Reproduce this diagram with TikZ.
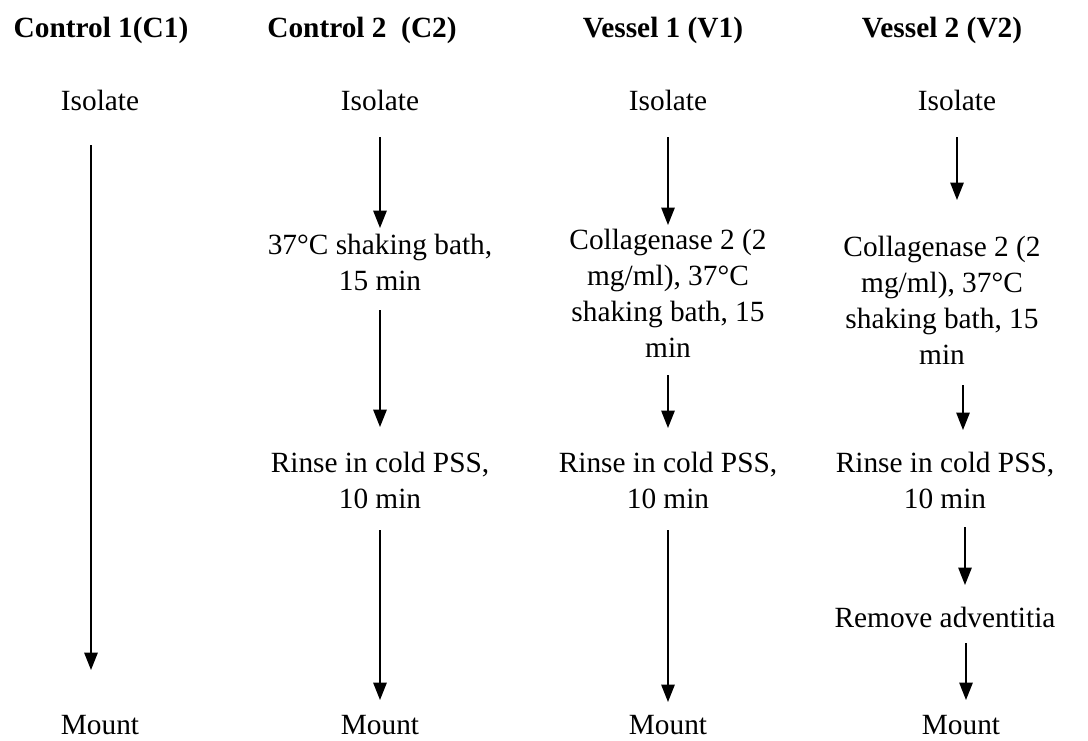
\documentclass[tikz,border=0pt]{standalone}
\usepackage{fontspec}
\setmainfont{Liberation Serif}
\usetikzlibrary{arrows.meta}
\newdimen\pxu
\pxu=0.75pt
\begin{document}
\begin{tikzpicture}[x=0.75pt,y=-0.75pt,
  every node/.style={inner sep=0pt, align=center, font=\fontsize{22}{27}\selectfont},
  head/.style={font=\fontsize{22}{27}\selectfont\bfseries},
  flow/.style={line width=1.2pt, -{Triangle[length=13pt,width=10pt]}}]
\useasboundingbox (0,0) rectangle (1088,740);

% column headings
\node[head] (h1) at (101,30) {Control 1(C1)};
\node[head] (h2) at (362,30) {Control 2\ \ (C2)};
\node[head] (h3) at (663,30) {Vessel 1 (V1)};
\node[head] (h4) at (942,30) {Vessel 2 (V2)};

% Control 1
\node (c1iso) at (100,100) {Isolate};
\node (c1mount) at (100,725) {Mount};
\draw[flow, shorten <=45\pxu, shorten >=55\pxu] ([xshift=-9\pxu]c1iso.center) -- ([xshift=-9\pxu]c1mount.center);

% Control 2
\node (c2iso) at (380,100) {Isolate};
\node (c2bath) at (380,262) {37°C shaking bath,\\15 min};
\node (c2rinse) at (380,480) {Rinse in cold PSS,\\10 min};
\node (c2mount) at (380,725) {Mount};
\draw[flow, shorten <=37\pxu, shorten >=34\pxu] (c2iso.center) -- (c2bath.center);
\draw[flow, shorten <=48\pxu, shorten >=53\pxu] (c2bath.center) -- (c2rinse.center);
\draw[flow, shorten <=50\pxu, shorten >=25\pxu] (c2rinse.center) -- (c2mount.center);

% Vessel 1
\node (v1iso) at (668,100) {Isolate};
\node (v1coll) at (668,293) {Collagenase 2 (2\\mg/ml), 37°C\\shaking bath, 15\\min};
\node (v1rinse) at (668,480) {Rinse in cold PSS,\\10 min};
\node (v1mount) at (668,725) {Mount};
\draw[flow, shorten <=37\pxu, shorten >=68\pxu] (v1iso.center) -- (v1coll.center);
\draw[flow, shorten <=82\pxu, shorten >=52\pxu] (v1coll.center) -- (v1rinse.center);
\draw[flow, shorten <=50\pxu, shorten >=23\pxu] (v1rinse.center) -- (v1mount.center);

% Vessel 2
\node (v2iso) at (957,100) {Isolate};
\node (v2coll) at (942,300) {Collagenase 2 (2\\mg/ml), 37°C\\shaking bath, 15\\min};
\node (v2rinse) at (945,480) {Rinse in cold PSS,\\10 min};
\node (v2rem) at (945,617) {Remove adventitia};
\node (v2mount) at (961,725) {Mount};
\draw[flow, shorten <=37\pxu, shorten >=100\pxu] (v2iso.center) -- (v2iso.center |- v2coll.center);
\draw[flow, shorten <=85\pxu, shorten >=50\pxu] ([xshift=21\pxu]v2coll.center) -- ([xshift=18\pxu]v2rinse.center);
\draw[flow, shorten <=47\pxu, shorten >=32\pxu] ([xshift=20\pxu]v2rinse.center) -- ([xshift=20\pxu]v2rem.center);
\draw[flow, shorten <=26\pxu, shorten >=25\pxu] ([xshift=21\pxu]v2rem.center) -- ([xshift=5\pxu]v2mount.center);
\end{tikzpicture}
\end{document}
